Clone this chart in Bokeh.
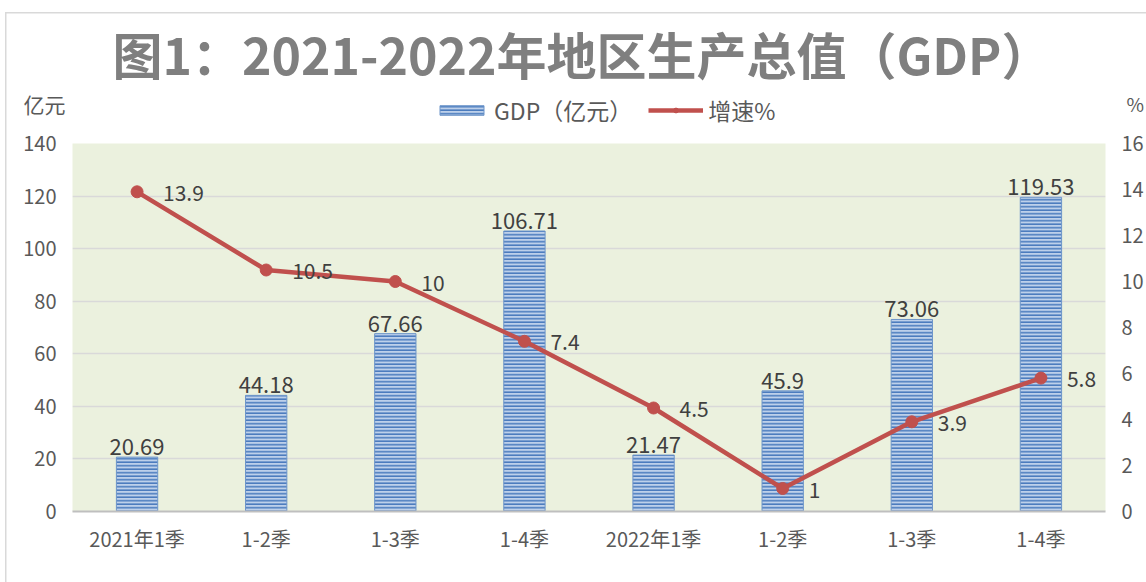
from bokeh.plotting import figure
from bokeh.layouts import column
from bokeh.models import (ColumnDataSource, Range1d, LinearAxis, FixedTicker,
                          LabelSet, Legend, LegendItem)
from bokeh.embed import file_html
from bokeh.resources import INLINE
from bokeh.core.properties import value

# ---- data ----
categories = ["2021年1季", "1-2季", "1-3季", "1-4季", "2022年1季", "1-2季", "1-3季", "1-4季"]
gdp = [20.69, 44.18, 67.66, 106.71, 21.47, 45.9, 73.06, 119.53]
growth = [13.9, 10.5, 10, 7.4, 4.5, 1, 3.9, 5.8]
left_ticks = [0, 20, 40, 60, 80, 100, 120, 140]
right_ticks = [0, 2, 4, 6, 8, 10, 12, 14, 16]
title_text = "图1：2021-2022年地区生产总值（GDP）"
series_names = ["GDP（亿元）", "增速%"]
left_unit, right_unit = "亿元", "%"

FONT = "Noto Sans CJK SC"
W, H = 1146, 582
FL, FR, FT, FB = 72, 1105, 143, 511
HEAD_H = 127                 # header: title, legend, units
HEAD_FRAME_TOP = 79
MAIN_H = H - HEAD_H

BAR_STYLE = dict(fill_color="#bdd0ea", line_color="#6d95c9", line_width=1,
                 hatch_pattern="horizontal_line", hatch_color="#4a7bbd",
                 hatch_scale=3.5, hatch_weight=1.6)
LINE_COLOR = "#c0504d"
TXT = "#595959"

xs = [i + 0.5 for i in range(len(categories))]
src = ColumnDataSource(dict(
    x=xs, gdp=gdp, growth=growth,
    gdp_lbl=[f"{v:g}" for v in gdp],
    g_lbl=[f"{v:g}" for v in growth],
))

# ================= header =================
hd = figure(width=W, height=HEAD_H, x_range=Range1d(0, 1), y_range=Range1d(0, 1),
            output_backend="svg", toolbar_location=None,
            x_axis_type=None, y_axis_type=None, title=title_text,
            min_border_left=0, min_border_right=0,
            min_border_top=HEAD_FRAME_TOP, min_border_bottom=0,
            background_fill_alpha=0, border_fill_alpha=0, outline_line_color=None)
hd.grid.visible = False
hd.title.align = "left"
hd.title.offset = 40
hd.title.standoff = -19
hd.title.text_font = FONT
hd.title.text_font_size = "50px"
hd.title.text_font_style = "bold"
hd.title.text_color = "#7f7f7f"

for side, txt, sz, so in [("left", left_unit, "21px", 7), ("right", right_unit, "19px", 21)]:
    ax = LinearAxis(ticker=FixedTicker(ticks=[]), axis_label=txt,
                    axis_label_orientation="horizontal", axis_label_standoff=so,
                    axis_label_text_font=FONT, axis_label_text_font_size=sz,
                    axis_label_text_font_style="normal", axis_label_text_color=TXT,
                    axis_line_color=None, major_tick_line_color=None,
                    minor_tick_line_color=None, major_tick_out=0, major_tick_in=0,
                    major_label_standoff=0, major_label_text_font_size="0px")
    hd.add_layout(ax, side)

# legend swatch renderers (hidden; only the legend swatches show)
lb = hd.vbar(x="x", top="gdp", width=0.32, source=src, visible=False, **BAR_STYLE)
ll = hd.line("x", "growth", source=src, line_color=LINE_COLOR, line_width=4.5, visible=False)
ls = hd.scatter("x", "growth", source=src, size=12, fill_color=LINE_COLOR,
                line_color=LINE_COLOR, visible=False)
legend = Legend(items=[LegendItem(label=series_names[0], renderers=[lb]),
                       LegendItem(label=series_names[1], renderers=[ll, ls])],
                orientation="horizontal", location=(362, 0),
                glyph_width=55, glyph_height=12, label_standoff=5, spacing=16,
                label_text_font=FONT, label_text_font_size="23px",
                label_text_color=TXT, background_fill_alpha=0,
                border_line_color=None, padding=0, margin=0,
                inactive_fill_alpha=0)
hd.add_layout(legend)

# ================= main chart =================
p = figure(width=W, height=MAIN_H, x_range=Range1d(0, len(categories)),
           y_range=Range1d(left_ticks[0], left_ticks[-1]),
           output_backend="svg", toolbar_location=None,
           min_border_left=FL, min_border_right=W - FR,
           min_border_top=FT - HEAD_H, min_border_bottom=H - FB,
           background_fill_color="#ebf1de", border_fill_alpha=0,
           outline_line_color=None)
p.extra_y_ranges = {"r": Range1d(right_ticks[0], right_ticks[-1])}

p.xaxis.ticker = FixedTicker(ticks=xs)
p.xaxis.major_label_overrides = {x: c for x, c in zip(xs, categories)}
p.yaxis.ticker = FixedTicker(ticks=left_ticks)
raxis = LinearAxis(y_range_name="r", ticker=FixedTicker(ticks=right_ticks))
p.add_layout(raxis, "right")

for ax in [p.xaxis[0], p.yaxis[0], raxis]:
    ax.major_tick_line_color = None
    ax.minor_tick_line_color = None
    ax.major_tick_out = 0
    ax.major_tick_in = 0
    ax.major_label_text_font = FONT
    ax.major_label_text_color = TXT
    ax.major_label_text_font_size = "20px"
    ax.major_label_standoff = 16
    ax.axis_line_color = None
p.xaxis.axis_line_color = "#bfbfbf"
p.xaxis.axis_line_width = 2
p.xaxis.major_label_standoff = 12

p.xgrid.grid_line_color = None
p.ygrid.ticker = FixedTicker(ticks=left_ticks)
p.ygrid.grid_line_color = "#d9d9d9"
p.ygrid.grid_line_width = 1.5

bars = p.vbar(x="x", top="gdp", width=0.32, source=src, **BAR_STYLE)
ln = p.line("x", "growth", source=src, y_range_name="r",
            line_color=LINE_COLOR, line_width=4.5)
sc = p.scatter("x", "growth", source=src, y_range_name="r", size=12,
               fill_color=LINE_COLOR, line_color=LINE_COLOR)

p.add_layout(LabelSet(x="x", y="gdp", text="gdp_lbl", source=src, y_offset=2,
                      text_align="center", text_baseline="bottom",
                      text_font=value(FONT), text_font_size="22px",
                      text_color="#404040"))
p.add_layout(LabelSet(x="x", y="growth", text="g_lbl", source=src, y_range_name="r",
                      x_offset=26, y_offset=-1, text_align="left", text_baseline="middle",
                      text_font=value(FONT), text_font_size="21px",
                      text_color="#404040"))

layout = column(hd, p, spacing=0,
                styles={"background-color": "white",
                        "box-shadow": "inset 5px 12px 0 0 white, inset 6.5px 13.5px 0 0 #d9d9d9"})

open("out.html", "w").write(file_html(layout, INLINE))
